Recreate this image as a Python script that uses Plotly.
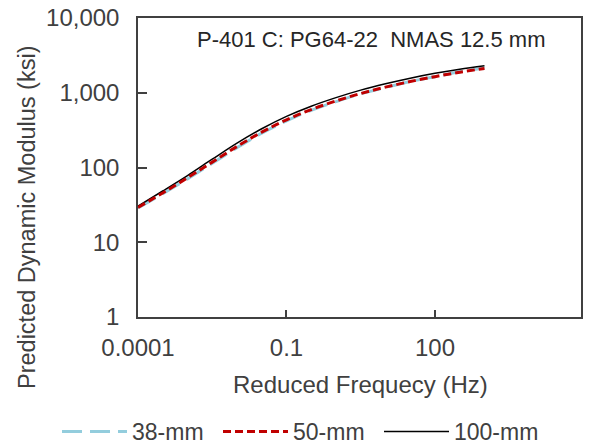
import plotly.graph_objects as go

# Reduced frequency (Hz)
freq_hz = [1e-4, 3.16e-4, 1e-3, 3.16e-3, 1e-2, 3.16e-2, 1e-1, 3.16e-1,
           1, 3.16, 10, 31.6, 100, 316, 1000]
# Predicted dynamic modulus (ksi)
e_38mm = [28.8, 44.6, 70.5, 114, 184, 288, 420, 582, 759, 966, 1175, 1413, 1641, 1905, 2138]
e_50mm = [29.2, 45.6, 72.8, 118, 191, 297, 434, 596, 776, 977, 1189, 1413, 1641, 1884, 2113]
e_100mm = [30.5, 48.5, 78, 129, 212, 330, 483, 661, 861, 1084, 1318, 1567, 1820, 2065, 2290]

series_names = ["38-mm", "50-mm", "100-mm"]
x_tickvals = [1e-4, 0.1, 100]
x_ticktext = ["0.0001", "0.1", "100"]
y_tickvals = [1, 10, 100, 1000, 10000]
y_ticktext = ["1", "10", "100", "1,000", "10,000"]

FONT = "Liberation Sans, Arial, sans-serif"
AX = "#404040"

# plot area in pixels (for placing titles)
PL, PR, PT, PB = 138, 581, 18, 317
PW, PH = PR - PL, PB - PT

fig = go.Figure()
fig.add_trace(go.Scatter(x=freq_hz, y=e_38mm, name=series_names[0], mode="lines",
                         line=dict(color="#93CDDD", width=3, dash="20px,8px", shape="spline"),
                         legendrank=1))
fig.add_trace(go.Scatter(x=freq_hz, y=e_100mm, name=series_names[2], mode="lines",
                         line=dict(color="#000000", width=1.5, shape="spline"),
                         legendrank=3))
fig.add_trace(go.Scatter(x=freq_hz, y=e_50mm, name=series_names[1], mode="lines",
                         line=dict(color="#C00000", width=3, dash="8px,4px", shape="spline"),
                         legendrank=2))

fig.update_layout(
    width=601, height=448,
    margin=dict(l=PL, r=601 - PR, t=PT, b=448 - PB, autoexpand=False),
    paper_bgcolor="white", plot_bgcolor="white",
    font=dict(family=FONT, size=24, color=AX),
    showlegend=True,
    legend=dict(orientation="h", x=(57 - PL) / PW, xanchor="left", xref="paper",
                y=1 - (453 - PT) / PH, yanchor="bottom", yref="paper",
                font=dict(size=23, color=AX), itemwidth=65, entrywidth=81,
                traceorder="normal", bgcolor="rgba(0,0,0,0)"),
    annotations=[
        dict(text="P-401 C: PG64-22\u00a0\u00a0NMAS 12.5 mm", xref="paper", yref="paper",
             x=(195 - PL) / PW, y=1 - (40 - PT) / PH, xanchor="left", yanchor="middle",
             showarrow=False, font=dict(size=22, color="#262626")),
        dict(text="Predicted Dynamic Modulus (ksi)", xref="paper", yref="paper",
             x=(27 - PL) / PW, y=1 - (218 - PT) / PH, xanchor="center", yanchor="middle",
             textangle=-90, showarrow=False, font=dict(size=23.5, color=AX)),
        dict(text="Reduced Frequecy (Hz)", xref="paper", yref="paper",
             x=(360 - PL) / PW, y=1 - (384 - PT) / PH, xanchor="center", yanchor="middle",
             showarrow=False, font=dict(size=24, color=AX)),
    ],
)
fig.update_xaxes(type="log", range=[-4, 4.95], tickmode="array",
                 tickvals=x_tickvals, ticktext=x_ticktext,
                 ticks="inside", ticklen=7, tickcolor=AX, tickwidth=1.5,
                 showline=True, linecolor=AX, linewidth=1.5, mirror=True,
                 showgrid=False, zeroline=False, ticklabelstandoff=8)
fig.update_yaxes(type="log", range=[0, 4], tickmode="array",
                 tickvals=y_tickvals, ticktext=y_ticktext,
                 ticks="inside", ticklen=9, tickcolor=AX, tickwidth=1.5,
                 showline=True, linecolor=AX, linewidth=1.5, mirror=True,
                 showgrid=False, zeroline=False, ticklabelstandoff=12)

fig.write_html("out.html")
